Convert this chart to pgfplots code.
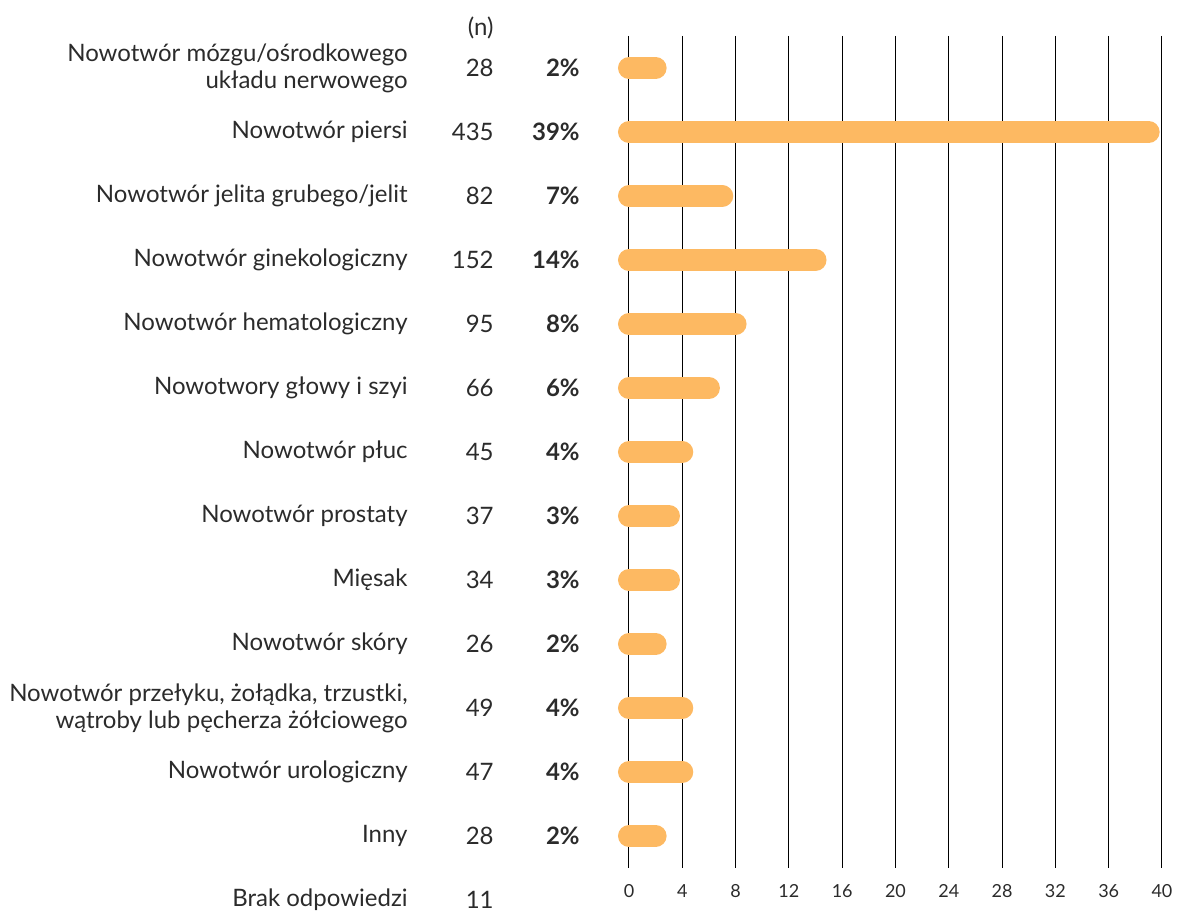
\documentclass[border=0pt]{standalone}
\usepackage{fontspec}
\setmainfont{Lato}
\usepackage{pgfplots}
\usepackage{pgfplotstable}
\pgfplotsset{compat=1.18}
\definecolor{barc}{HTML}{FDB962}
\definecolor{txt}{HTML}{2B2B2B}
\newcommand\lbl{\fontsize{12}{13.6}\selectfont}

% bar values (percent), row 0 at top
\pgfplotstableread{
y v
0 2
1 39
2 7
3 14
4 8
5 6
6 4
7 3
8 3
9 2
10 4
11 4
12 2
}\vtab

\pgfplotstableread{
y n
-0.625 (n)
0 28
1 435
2 82
3 152
4 95
5 66
6 45
7 37
8 34
9 26
10 49
11 47
12 28
13 11
}\ntab

\pgfplotstableread{
y l
13 {Brak odpowiedzi}
}\btab

\begin{document}
\begin{tikzpicture}
\useasboundingbox (-314.5pt,-22.5pt) rectangle (287pt,434pt);
\begin{axis}[
  at={(0,0)}, anchor=south west,
  scale only axis, width=266.5pt, height=416pt,
  xmin=0, xmax=40, ymin=-0.5, ymax=12.5, y dir=reverse,
  xtick={0,4,...,40}, ytick={0,...,12},
  yticklabels={
    {Nowotwór mózgu/ośrodkowego\\układu nerwowego},
    {Nowotwór piersi},
    {Nowotwór jelita grubego/jelit},
    {Nowotwór ginekologiczny},
    {Nowotwór hematologiczny},
    {Nowotwory głowy i szyi},
    {Nowotwór płuc},
    {Nowotwór prostaty},
    {Mięsak},
    {Nowotwór skóry},
    {Nowotwór przełyku, żołądka, trzustki,\\wątroby lub pęcherza żółciowego},
    {Nowotwór urologiczny},
    {Inny}},
  yticklabel style={font=\lbl, text=txt, align=right, inner sep=0pt, xshift=-110.5pt},
  xticklabel style={font=\fontsize{9}{10}\selectfont, text=txt, inner sep=0pt, yshift=-8pt},
  /pgf/number format/assume math mode=true,
  xmajorgrids, grid style={black, line width=0.5pt},
  axis line style={draw=none}, tick style={draw=none},
  clip=false,
]
\addplot[xcomb, draw=barc, line width=11pt, line cap=round, mark=none]
  table[x=v, y=y] {\vtab};
\addplot[draw=none, mark=none, nodes near coords, point meta=explicit symbolic,
  every node near coord/.append style={anchor=east, inner sep=0pt, xshift=-67.5pt, font=\lbl, text=txt}]
  table[x expr=0, y=y, meta=n] {\ntab};
\addplot[draw=none, mark=none, nodes near coords={\textbf{\pgfplotspointmeta\%}}, point meta=explicit symbolic,
  every node near coord/.append style={anchor=east, inner sep=0pt, xshift=-24.5pt, font=\lbl, text=txt}]
  table[x expr=0, y=y, meta=v] {\vtab};
\addplot[draw=none, mark=none, nodes near coords, point meta=explicit symbolic,
  every node near coord/.append style={anchor=east, inner sep=0pt, xshift=-110.5pt, font=\lbl, text=txt}]
  table[x expr=0, y=y, meta=l] {\btab};
\end{axis}
\end{tikzpicture}
\end{document}
